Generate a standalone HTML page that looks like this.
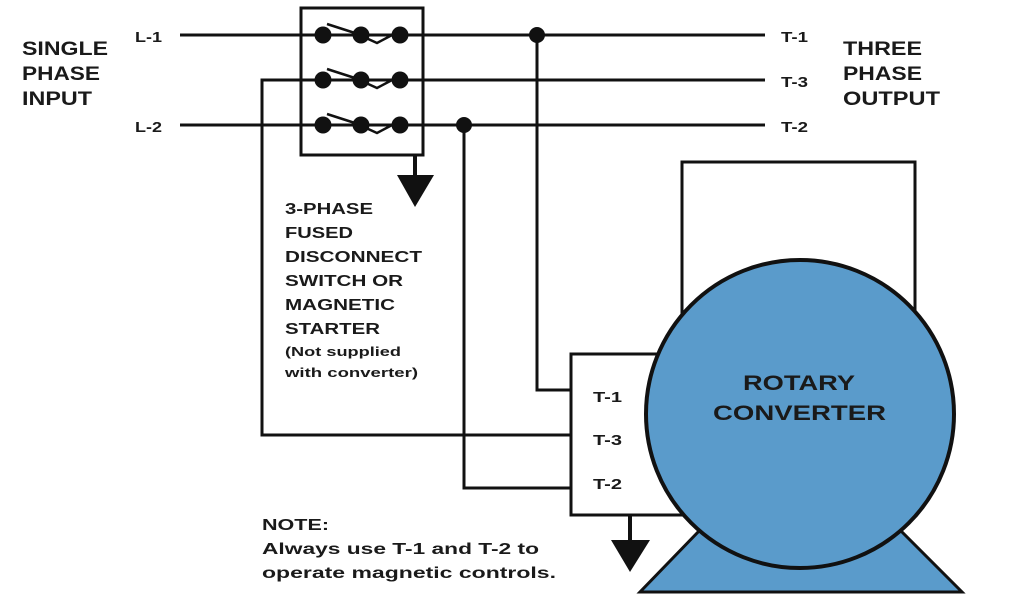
<!DOCTYPE html>
<html><head><meta charset="utf-8"><style>
html,body{margin:0;padding:0;background:#fff;}
svg{display:block;}
text{font-family:"Liberation Sans",Arial,sans-serif;font-weight:bold;fill:#1a1a1a;}
</style></head><body>
<svg width="1024" height="600" viewBox="0 0 1024 600" xmlns="http://www.w3.org/2000/svg">
<g stroke="#111" stroke-width="3" fill="none">
 <line x1="180" y1="35" x2="765" y2="35"/>
 <line x1="180" y1="125" x2="765" y2="125"/>
 <polyline points="765,80 262,80 262,435 571,435"/>
 <polyline points="537,35 537,390 571,390"/>
 <polyline points="464,125 464,488 571,488"/>
 <rect x="301" y="8" width="122" height="147" fill="none"/>
 <line x1="415" y1="155" x2="415" y2="178" stroke-width="4"/>
 <rect x="571" y="354" width="120" height="161" fill="#fff"/>
 <line x1="630" y1="515" x2="630" y2="542" stroke-width="4"/>
 <rect x="682" y="162" width="233" height="200" fill="#fff"/>
</g>
<polygon points="397,175 434,175 415,207" fill="#111"/>
<polygon points="611,540 650,540 630,572" fill="#111"/>
<g fill="#111">
 <circle cx="323" cy="35" r="8.5"/><circle cx="361" cy="35" r="8.5"/><circle cx="400" cy="35" r="8.5"/>
 <circle cx="323" cy="80" r="8.5"/><circle cx="361" cy="80" r="8.5"/><circle cx="400" cy="80" r="8.5"/>
 <circle cx="323" cy="125" r="8.5"/><circle cx="361" cy="125" r="8.5"/><circle cx="400" cy="125" r="8.5"/>
 <circle cx="537" cy="35" r="8"/><circle cx="464" cy="125" r="8"/>
</g>
<g stroke="#111" stroke-width="2.5" fill="none">
 <polyline points="327,24 358,34"/><polyline points="366,38 377,43 394,34"/>
 <polyline points="327,69 358,79"/><polyline points="366,83 377,88 394,79"/>
 <polyline points="327,114 358,124"/><polyline points="366,128 377,133 394,124"/>
</g>
<polygon points="700,530 900,530 962,592 640,592" fill="#5a9bcb" stroke="#111" stroke-width="3"/>
<circle cx="800" cy="414" r="154" fill="#5a9bcb" stroke="#111" stroke-width="4"/>
<text x="743" y="390" font-size="21" textLength="112" lengthAdjust="spacingAndGlyphs" fill="#0d1e33">ROTARY</text>
<text x="713" y="420" font-size="21" textLength="173" lengthAdjust="spacingAndGlyphs" fill="#0d1e33">CONVERTER</text>
<g font-size="19" lengthAdjust="spacingAndGlyphs">
 <text x="22" y="55" textLength="86" lengthAdjust="spacingAndGlyphs">SINGLE</text>
 <text x="22" y="80" textLength="78" lengthAdjust="spacingAndGlyphs">PHASE</text>
 <text x="22" y="105" textLength="70" lengthAdjust="spacingAndGlyphs">INPUT</text>
 <text x="843" y="55" textLength="79" lengthAdjust="spacingAndGlyphs">THREE</text>
 <text x="843" y="80" textLength="79" lengthAdjust="spacingAndGlyphs">PHASE</text>
 <text x="843" y="105" textLength="97" lengthAdjust="spacingAndGlyphs">OUTPUT</text>
</g>
<g font-size="15">
 <text x="135" y="42" textLength="27" lengthAdjust="spacingAndGlyphs">L-1</text>
 <text x="135" y="132" textLength="27" lengthAdjust="spacingAndGlyphs">L-2</text>
 <text x="781" y="42" textLength="27" lengthAdjust="spacingAndGlyphs">T-1</text>
 <text x="781" y="87" textLength="27" lengthAdjust="spacingAndGlyphs">T-3</text>
 <text x="781" y="132" textLength="27" lengthAdjust="spacingAndGlyphs">T-2</text>
 <text x="593" y="402" textLength="29" lengthAdjust="spacingAndGlyphs">T-1</text>
 <text x="593" y="445" textLength="29" lengthAdjust="spacingAndGlyphs">T-3</text>
 <text x="593" y="489" textLength="29" lengthAdjust="spacingAndGlyphs">T-2</text>
</g>
<g font-size="15.5">
 <text x="285" y="214" textLength="88" lengthAdjust="spacingAndGlyphs">3-PHASE</text>
 <text x="285" y="238" textLength="68" lengthAdjust="spacingAndGlyphs">FUSED</text>
 <text x="285" y="262" textLength="137" lengthAdjust="spacingAndGlyphs">DISCONNECT</text>
 <text x="285" y="286" textLength="118" lengthAdjust="spacingAndGlyphs">SWITCH OR</text>
 <text x="285" y="310" textLength="110" lengthAdjust="spacingAndGlyphs">MAGNETIC</text>
 <text x="285" y="334" textLength="95" lengthAdjust="spacingAndGlyphs">STARTER</text>
</g>
<g font-size="13">
 <text x="285" y="356" textLength="116" lengthAdjust="spacingAndGlyphs">(Not supplied</text>
 <text x="285" y="377" textLength="133" lengthAdjust="spacingAndGlyphs">with converter)</text>
</g>
<g font-size="16">
 <text x="262" y="530" textLength="67" lengthAdjust="spacingAndGlyphs">NOTE:</text>
 <text x="262" y="554" textLength="277" lengthAdjust="spacingAndGlyphs">Always use T-1 and T-2 to</text>
 <text x="262" y="578" textLength="294" lengthAdjust="spacingAndGlyphs">operate magnetic controls.</text>
</g>
</svg>
</body></html>
